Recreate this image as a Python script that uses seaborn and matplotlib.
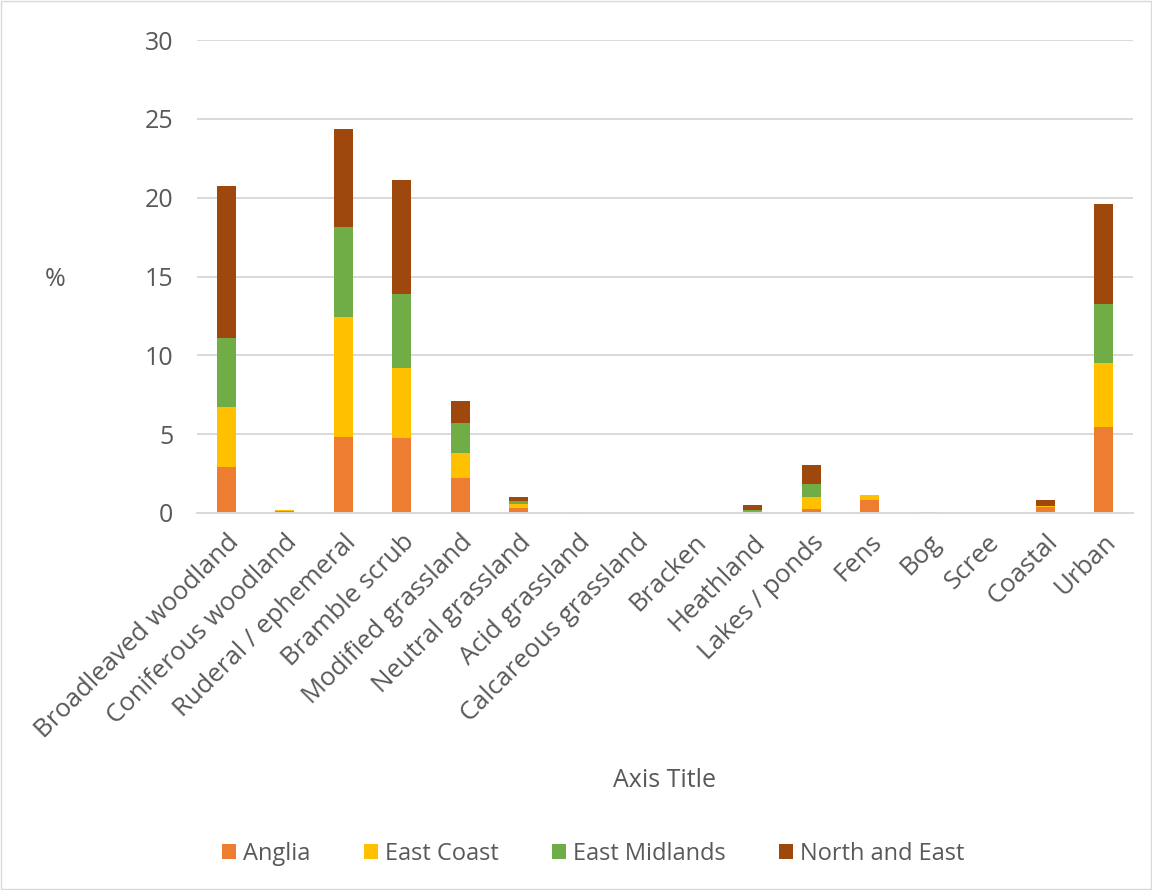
import matplotlib
matplotlib.use("Agg")
import matplotlib.pyplot as plt
import numpy as np
import pandas as pd
import seaborn as sns
from matplotlib.patches import Rectangle, Patch

habitats = ["Broadleaved woodland", "Coniferous woodland", "Ruderal / ephemeral",
            "Bramble scrub", "Modified grassland", "Neutral grassland", "Acid grassland",
            "Calcareous grassland", "Bracken", "Heathland", "Lakes / ponds", "Fens",
            "Bog", "Scree", "Coastal", "Urban"]

anglia        = [2.90, 0.12, 4.84, 4.78, 2.20, 0.34, 0.03, 0.01, 0.0, 0.10, 0.25, 0.82, 0.03, 0.02, 0.36, 5.47]
east_coast    = [3.84, 0.05, 7.61, 4.41, 1.59, 0.23, 0.03, 0.01, 0.0, 0.05, 0.78, 0.30, 0.00, 0.01, 0.08, 4.02]
east_midlands = [4.36, 0.01, 5.71, 4.68, 1.90, 0.19, 0.00, 0.00, 0.0, 0.02, 0.79, 0.00, 0.00, 0.00, 0.02, 3.76]
north_east    = [9.64, 0.02, 6.19, 7.27, 1.43, 0.25, 0.00, 0.00, 0.0, 0.35, 1.22, 0.02, 0.02, 0.00, 0.38, 6.35]

series_names = ["Anglia", "East Coast", "East Midlands", "North and East"]
series_colors = ["#ED7D31", "#FFC000", "#70AD47", "#9E480E"]

df = pd.DataFrame({"Habitat": habitats, "Anglia": anglia, "East Coast": east_coast,
                   "East Midlands": east_midlands, "North and East": north_east})

# cumulative tops for stacking by overdrawing
cum = df[series_names].cumsum(axis=1)

sns.set_style("white")
plt.rcParams["font.family"] = ["Open Sans", "DejaVu Sans"]
text_color = "#595959"
fs = 18

fig = plt.figure(figsize=(11.52, 8.90), dpi=100)
ax = fig.add_axes([0.171, 0.4236, 0.8125, 0.5314])

for name, color in reversed(list(zip(series_names, series_colors))):
    sns.barplot(x=df["Habitat"], y=cum[name], order=habitats, color=color,
                width=0.33, saturation=1, ax=ax, linewidth=0, errorbar=None)

ax.set_ylim(0, 30)
ax.set_yticks(np.arange(0, 31, 5))
ax.set_xlim(-0.5, len(habitats) - 0.5)
ax.yaxis.grid(True, color="#D9D9D9", linewidth=1.4)
ax.set_axisbelow(True)
for s in ["top", "right", "left"]:
    ax.spines[s].set_visible(False)
ax.spines["bottom"].set_color("#D9D9D9")
ax.spines["bottom"].set_linewidth(1.4)

ax.tick_params(axis="y", length=0, labelsize=fs, labelcolor=text_color, pad=17)
ax.tick_params(axis="x", which="major", length=0, labelsize=18.5, labelcolor=text_color, pad=12)
ax.set_xticks(range(len(habitats)))
ax.set_xticklabels(habitats, rotation=45, ha="right", rotation_mode="anchor")
ax.set_xticks(np.arange(-0.5, len(habitats), 1.0), minor=True)
ax.tick_params(axis="x", which="minor", length=8, width=1.4, color="#D9D9D9", direction="out")

ax.set_xlabel("")
ax.set_ylabel("")
fig.text(0.048, 0.686, "%", fontsize=fs, color=text_color, ha="center", va="center")
fig.text(0.577, 0.1225, "Axis Title", fontsize=fs, color=text_color, ha="center", va="center")

handles = [Patch(facecolor=c, edgecolor="none") for c in series_colors]
fig.legend(handles, series_names, loc="center", bbox_to_anchor=(0.515, 0.041), ncol=4,
           frameon=False, fontsize=17, labelcolor=text_color, handlelength=0.6,
           handleheight=0.6, handletextpad=0.3, columnspacing=2.25)

fig.patches.append(Rectangle((0.001, 0.001), 0.998, 0.998, transform=fig.transFigure,
                             fill=False, edgecolor="#D9D9D9", linewidth=1))

fig.savefig("out.png", dpi=100)
